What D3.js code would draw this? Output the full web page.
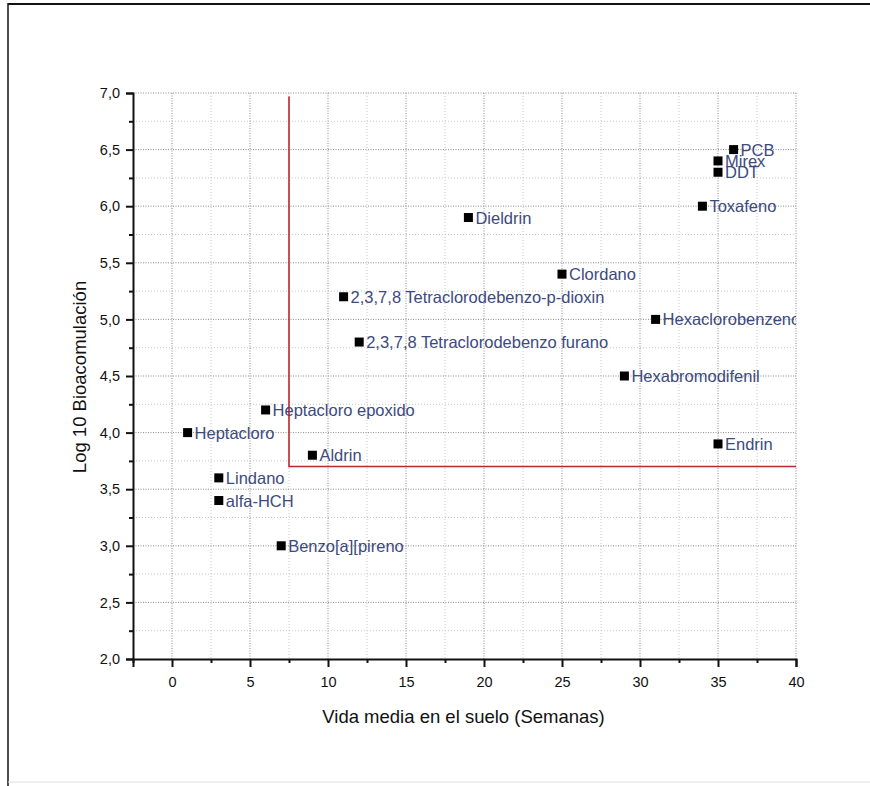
<!DOCTYPE html>
<html>
<head>
<meta charset="utf-8">
<script src="https://cdn.jsdelivr.net/npm/d3@7"></script>
<style>
  html, body { margin: 0; padding: 0; background: #fff; }
  svg { display: block; }
  text { font-family: "Liberation Sans", Arial, sans-serif; }
</style>
</head>
<body>
<svg id="chart" width="870" height="786"></svg>
<script>
// Compounds: soil half-life (weeks) vs log10 bioaccumulation
const compounds = ["PCB", "Mirex", "DDT", "Toxafeno", "Dieldrin", "Clordano",
  "2,3,7,8 Tetraclorodebenzo-p-dioxin", "Hexaclorobenzeno",
  "2,3,7,8 Tetraclorodebenzo furano", "Hexabromodifenil", "Heptacloro epoxido",
  "Heptacloro", "Endrin", "Aldrin", "Lindano", "alfa-HCH", "Benzo[a][pireno"];
const halfLife = [36, 35, 35, 34, 19, 25, 11, 31, 12, 29, 6, 1, 35, 9, 3, 3, 7];
const logBio   = [6.5, 6.4, 6.3, 6.0, 5.9, 5.4, 5.2, 5.0, 4.8, 4.5, 4.2, 4.0, 3.9, 3.8, 3.6, 3.4, 3.0];

const xTicks = [0, 5, 10, 15, 20, 25, 30, 35, 40];
const yTicks = [2.0, 2.5, 3.0, 3.5, 4.0, 4.5, 5.0, 5.5, 6.0, 6.5, 7.0];
const xMinor = [-2.5, 2.5, 7.5, 12.5, 17.5, 22.5, 27.5, 32.5, 37.5];
const yMinor = [2.25, 2.75, 3.25, 3.75, 4.25, 4.75, 5.25, 5.75, 6.25, 6.75];

// Threshold lines (half-life 7.5 weeks, log bioaccumulation 3.7)
const thresholdX = 7.5;
const thresholdY = 3.7;
const thresholdTop = 6.97;
const xMax = 40;

const svg = d3.select("#chart");
const pL = 133, pR = 796, pT = 93, pB = 659;

const x = d3.scaleLinear().domain([-2.5, 40]).range([pL, pR]);
const y = d3.scaleLinear().domain([2, 7]).range([pB, pT]);

// outer frame
svg.append("line").attr("x1", 8).attr("x2", 870).attr("y1", 4).attr("y2", 4)
  .attr("stroke", "#111").attr("stroke-width", 2.2);
svg.append("line").attr("x1", 8).attr("x2", 8).attr("y1", 3).attr("y2", 786)
  .attr("stroke", "#222").attr("stroke-width", 1.6);
svg.append("line").attr("x1", 8).attr("x2", 870).attr("y1", 782).attr("y2", 782)
  .attr("stroke", "#ddd").attr("stroke-width", 1);

// gridlines
const grid = svg.append("g");
grid.selectAll(".gxm").data(xMinor.filter(d => d > -2.5)).enter().append("line")
  .attr("x1", d => x(d)).attr("x2", d => x(d)).attr("y1", pT).attr("y2", pB)
  .attr("stroke", "#c8c8c8").attr("stroke-width", 1).attr("stroke-dasharray", "1,2");
grid.selectAll(".gym").data(yMinor).enter().append("line")
  .attr("x1", pL).attr("x2", pR).attr("y1", d => y(d)).attr("y2", d => y(d))
  .attr("stroke", "#c8c8c8").attr("stroke-width", 1).attr("stroke-dasharray", "1,2");
grid.selectAll(".gx").data(xTicks).enter().append("line")
  .attr("x1", d => x(d)).attr("x2", d => x(d)).attr("y1", pT).attr("y2", pB)
  .attr("stroke", "#8a8a8a").attr("stroke-width", 1).attr("stroke-dasharray", "1,1.5");
grid.selectAll(".gy").data(yTicks.slice(1)).enter().append("line")
  .attr("x1", pL).attr("x2", pR).attr("y1", d => y(d)).attr("y2", d => y(d))
  .attr("stroke", "#8a8a8a").attr("stroke-width", 1).attr("stroke-dasharray", "1,1.5");

// threshold lines
svg.append("path")
  .attr("d", `M${x(thresholdX)},${y(thresholdTop)} L${x(thresholdX)},${y(thresholdY)} L${x(xMax)},${y(thresholdY)}`)
  .attr("fill", "none").attr("stroke", "#c0262c").attr("stroke-width", 1.6);

// axes
const fmt = d => d3.format(".1f")(d).replace(".", ",");
const xAxis = svg.append("g").attr("transform", `translate(0,${pB})`)
  .call(d3.axisBottom(x).tickValues(xTicks).tickSize(8).tickPadding(10).tickFormat(d3.format("d")));
const xAxisMinor = svg.append("g").attr("transform", `translate(0,${pB})`)
  .call(d3.axisBottom(x).tickValues(xMinor).tickSize(4).tickFormat(""));
const yAxis = svg.append("g").attr("transform", `translate(${pL},0)`)
  .call(d3.axisLeft(y).tickValues(yTicks).tickSize(7).tickPadding(6).tickFormat(fmt));
const yAxisMinor = svg.append("g").attr("transform", `translate(${pL},0)`)
  .call(d3.axisLeft(y).tickValues(yMinor).tickSize(4).tickFormat(""));

[xAxis, xAxisMinor, yAxis, yAxisMinor].forEach(a => {
  a.selectAll(".domain").attr("stroke", "#111").attr("stroke-width", 2);
  a.selectAll(".tick line").attr("stroke", "#111").attr("stroke-width", 2);
  a.selectAll("text").attr("fill", "#111").style("font-size", "14.5px")
    .style("font-family", "'Liberation Sans', Arial, sans-serif");
});
xAxisMinor.select(".domain").remove();
yAxisMinor.select(".domain").remove();

// axis titles
svg.append("text").attr("x", (pL + pR) / 2 - 1).attr("y", 723)
  .attr("text-anchor", "middle").attr("fill", "#111").style("font-size", "18.5px")
  .text("Vida media en el suelo (Semanas)");
svg.append("text").attr("transform", `translate(86,377) rotate(-90)`)
  .attr("text-anchor", "middle").attr("fill", "#111").style("font-size", "18.5px")
  .text("Log 10 Bioacomulación");

// points and labels, clipped to plot area
svg.append("clipPath").attr("id", "plotclip").append("rect")
  .attr("x", pL).attr("y", pT - 10).attr("width", pR - pL).attr("height", pB - pT + 10);

const pts = svg.append("g").attr("clip-path", "url(#plotclip)");
const idx = d3.range(compounds.length);
pts.selectAll("rect").data(idx).enter().append("rect")
  .attr("x", i => x(halfLife[i]) - 4.5).attr("y", i => y(logBio[i]) - 4.5)
  .attr("width", 9).attr("height", 9).attr("fill", "#000");
pts.selectAll("text").data(idx).enter().append("text")
  .attr("x", i => x(halfLife[i]) + 7).attr("y", i => y(logBio[i]) + 6)
  .attr("fill", "#3c4a7e").style("font-size", "16.5px")
  .text(i => compounds[i]);
</script>
</body>
</html>
